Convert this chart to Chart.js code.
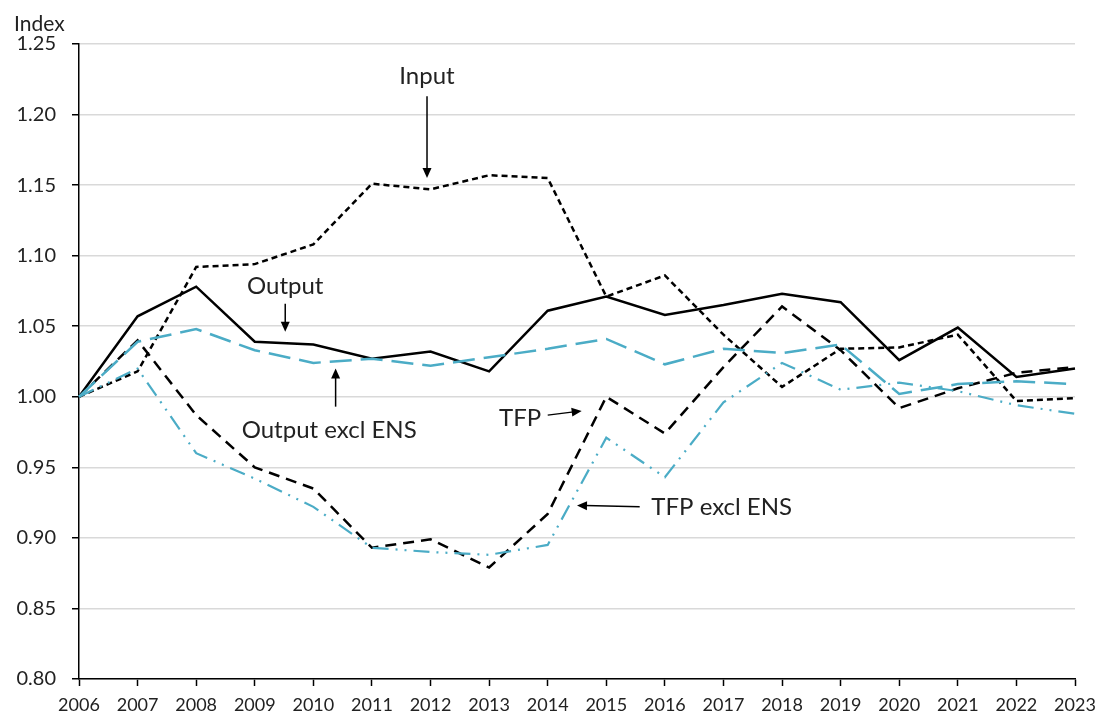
<!DOCTYPE html>
<html>
<head>
<meta charset="utf-8">
<script src="https://cdn.jsdelivr.net/npm/chart.js@4/dist/chart.umd.min.js"></script>
<style>
  html, body { margin: 0; padding: 0; background: #fff; }
  #wrap { width: 1096px; height: 713px; }
</style>
</head>
<body>
<div id="wrap"><canvas id="chart" width="1096" height="713"></canvas></div>
<script>
// years on the x axis
var years = [2006, 2007, 2008, 2009, 2010, 2011, 2012, 2013, 2014, 2015, 2016, 2017, 2018, 2019, 2020, 2021, 2022, 2023];

// index values
var output       = [1.000, 1.057, 1.078, 1.039, 1.037, 1.027, 1.032, 1.018, 1.061, 1.071, 1.058, 1.065, 1.073, 1.067, 1.026, 1.049, 1.014, 1.020];
var input        = [1.000, 1.018, 1.092, 1.094, 1.108, 1.151, 1.147, 1.157, 1.155, 1.071, 1.086, 1.044, 1.007, 1.034, 1.035, 1.044, 0.997, 0.999];
var tfp          = [1.000, 1.040, 0.987, 0.950, 0.935, 0.893, 0.899, 0.879, 0.917, 1.000, 0.974, 1.021, 1.064, 1.033, 0.992, 1.006, 1.017, 1.021];
var outputExcl   = [1.000, 1.039, 1.048, 1.033, 1.024, 1.027, 1.022, 1.028, 1.034, 1.041, 1.023, 1.034, 1.031, 1.037, 1.002, 1.009, 1.011, 1.009];
var tfpExcl      = [1.000, 1.020, 0.960, 0.942, 0.922, 0.893, 0.890, 0.888, 0.895, 0.971, 0.943, 0.996, 1.024, 1.005, 1.010, 1.004, 0.994, 0.988];

// y axis range
var yMin = 0.80, yMax = 1.25, yStep = 0.05;

var blue = '#4bacc6';
var fontFamily = 'Lato, "Open Sans", sans-serif';

// text labels with arrows, placed in data units (year, index)
var notes = [
  { text: 'Input', x: 2011.94, y: 1.227, from: [2011.94, 1.213], to: [2011.94, 1.155] },
  { text: 'Output', x: 2009.52, y: 1.078, from: [2009.52, 1.066], to: [2009.52, 1.046] },
  { text: 'Output excl ENS', x: 2010.27, y: 0.976, from: [2010.38, 0.993], to: [2010.38, 1.020] },
  { text: 'TFP', x: 2013.53, y: 0.985, from: [2014.0, 0.987], to: [2014.58, 0.990] },
  { text: 'TFP excl ENS', x: 2016.97, y: 0.922, from: [2015.57, 0.922], to: [2014.5, 0.923] }
];

var notesPlugin = {
  id: 'notes',
  afterDraw: function (chart) {
    var ctx = chart.ctx;
    var xs = chart.scales.x, ys = chart.scales.y;
    function px(yr) { return xs.getPixelForValue(yr - years[0]); }
    function py(v) { return ys.getPixelForValue(v); }

    ctx.save();
    ctx.fillStyle = '#222';
    ctx.font = '21px ' + fontFamily;
    ctx.textAlign = 'left';
    ctx.textBaseline = 'middle';
    ctx.fillText('Index', 14, 24);

    ctx.font = '24px ' + fontFamily;
    ctx.textAlign = 'center';
    notes.forEach(function (n) {
      ctx.fillStyle = '#222';
      ctx.fillText(n.text, px(n.x), py(n.y));
      var x1 = px(n.from[0]), y1 = py(n.from[1]);
      var x2 = px(n.to[0]), y2 = py(n.to[1]);
      var ang = Math.atan2(y2 - y1, x2 - x1);
      var head = 10, half = 4.5;
      ctx.strokeStyle = '#000';
      ctx.lineWidth = 1.5;
      ctx.beginPath();
      ctx.moveTo(x1, y1);
      ctx.lineTo(x2 - Math.cos(ang) * head * 0.8, y2 - Math.sin(ang) * head * 0.8);
      ctx.stroke();
      ctx.fillStyle = '#000';
      ctx.beginPath();
      ctx.moveTo(x2, y2);
      ctx.lineTo(x2 - Math.cos(ang) * head + Math.sin(ang) * half, y2 - Math.sin(ang) * head - Math.cos(ang) * half);
      ctx.lineTo(x2 - Math.cos(ang) * head - Math.sin(ang) * half, y2 - Math.sin(ang) * head + Math.cos(ang) * half);
      ctx.closePath();
      ctx.fill();
    });
    ctx.restore();
  }
};

function series(label, data, color, dash, width) {
  return {
    label: label,
    data: data,
    borderColor: color,
    backgroundColor: color,
    borderWidth: width,
    borderDash: dash,
    pointRadius: 0,
    tension: 0,
    fill: false
  };
}

new Chart(document.getElementById('chart').getContext('2d'), {
  type: 'line',
  data: {
    labels: years.map(String),
    datasets: [
      series('Output excl ENS', outputExcl, blue, [22, 9], 2.5),
      series('TFP excl ENS', tfpExcl, blue, [16, 7, 2, 7, 2, 7], 2.2),
      series('Input', input, '#000', [6, 4], 2.5),
      series('TFP', tfp, '#000', [11, 7], 2.5),
      series('Output', output, '#000', [], 2.5)
    ]
  },
  options: {
    responsive: false,
    animation: false,
    layout: { padding: { top: 44, right: 21, left: 0, bottom: 0 } },
    plugins: {
      legend: { display: false },
      tooltip: { enabled: false }
    },
    scales: {
      x: {
        type: 'category',
        offset: false,
        grid: { drawOnChartArea: false, drawTicks: true, tickLength: 7, tickColor: '#000', tickWidth: 1.5 },
        border: { color: '#000', width: 1.5 },
        ticks: {
          color: '#222',
          maxRotation: 0,
          autoSkip: false,
          padding: 8,
          font: { family: fontFamily, size: 18 }
        },
        afterFit: function (scale) {
          scale.height = 34;
          scale.paddingLeft = 0;
          scale.paddingRight = 0;
        }
      },
      y: {
        min: yMin,
        max: yMax,
        grid: { color: '#d9d9d9', lineWidth: 1.5, tickLength: 7, tickColor: '#000', tickWidth: 1.5 },
        border: { color: '#000', width: 1.5 },
        ticks: {
          stepSize: yStep,
          color: '#222',
          padding: 16,
          font: { family: fontFamily, size: 20 },
          callback: function (v) { return Number(v).toFixed(2); }
        },
        afterFit: function (scale) {
          scale.width = 79;
          scale.paddingTop = 0;
          scale.paddingBottom = 0;
        }
      }
    }
  },
  plugins: [notesPlugin]
});
</script>
</body>
</html>
